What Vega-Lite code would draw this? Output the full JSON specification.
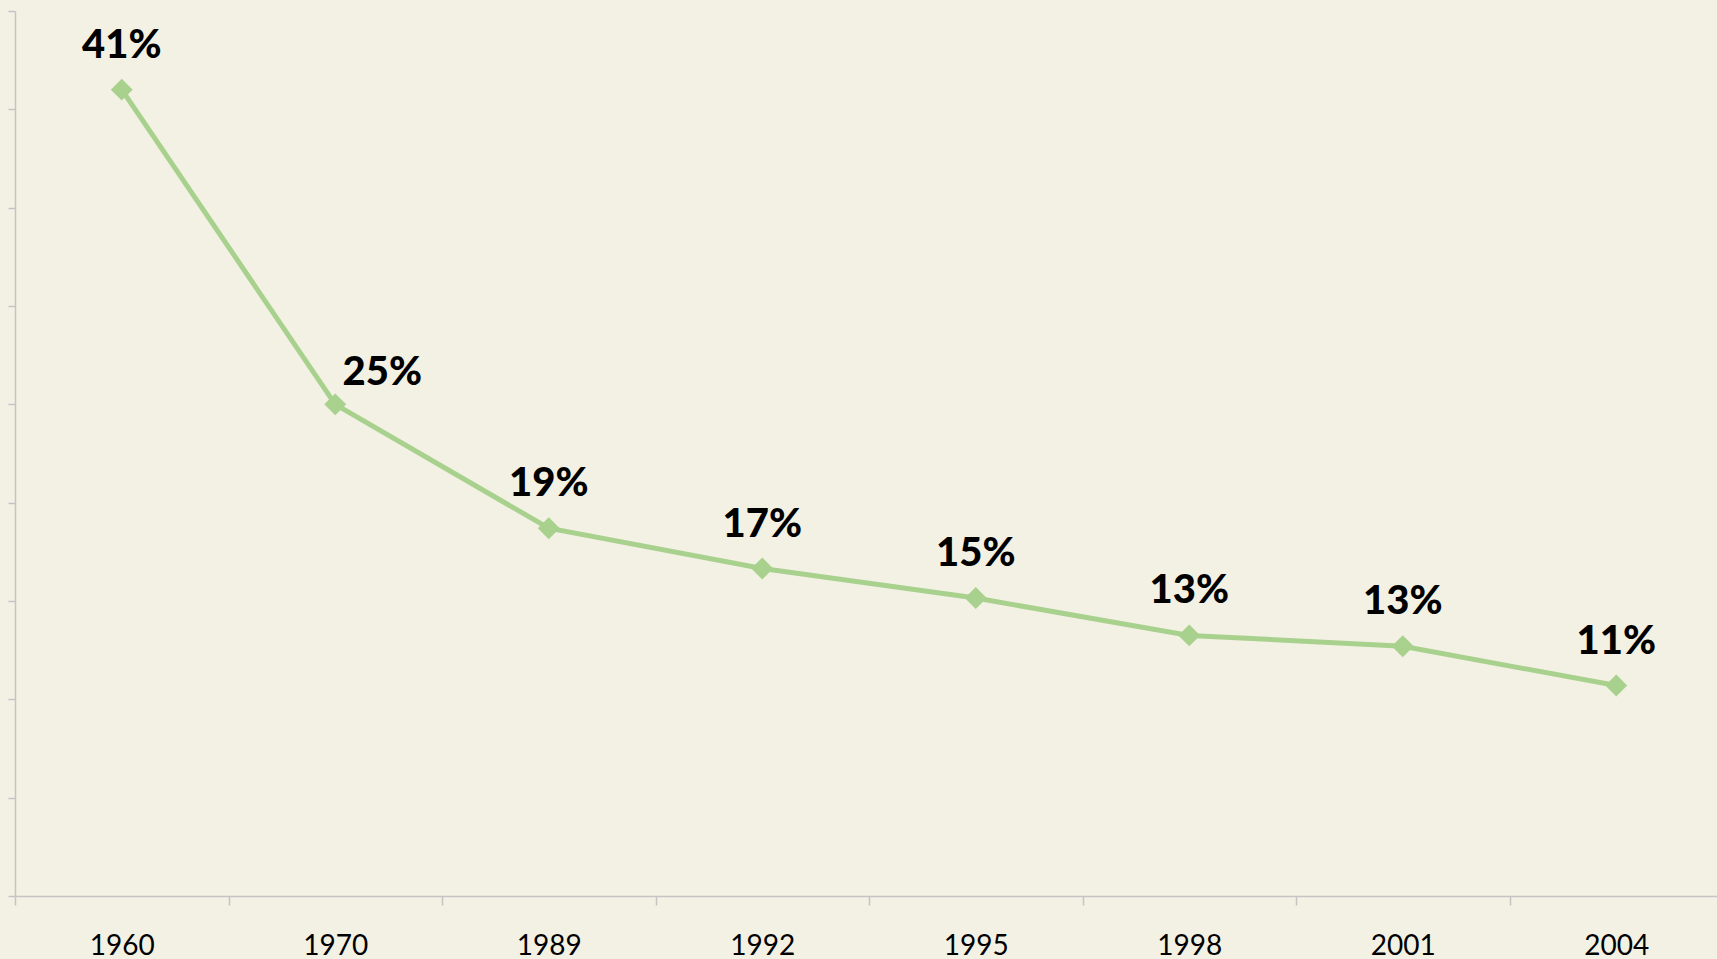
{
  "$schema": "https://vega.github.io/schema/vega-lite/v6.json",
  "width": 1702,
  "height": 885,
  "autosize": {"type": "none"},
  "padding": {"left": 15, "top": 11, "right": 0, "bottom": 63},
  "background": "#f3f1e4",
  "config": {
    "view": {"stroke": null},
    "font": "Lato"
  },
  "data": {
    "values": [
      {"year": "1960", "value": 41.0, "label": "41%"},
      {"year": "1970", "value": 25.0, "label": "25%"},
      {"year": "1989", "value": 18.7, "label": "19%"},
      {"year": "1992", "value": 16.65, "label": "17%"},
      {"year": "1995", "value": 15.15, "label": "15%"},
      {"year": "1998", "value": 13.25, "label": "13%"},
      {"year": "2001", "value": 12.7, "label": "13%"},
      {"year": "2004", "value": 10.7, "label": "11%"}
    ]
  },
  "encoding": {
    "x": {
      "field": "year",
      "type": "ordinal",
      "sort": null,
      "scale": {"paddingInner": 0, "paddingOuter": 0, "range": [0, 1708]},
      "axis": {
        "title": null,
        "labelAngle": 0,
        "domainColor": "#c4c4c4",
        "domainWidth": 1.5,
        "tickColor": "#c4c4c4",
        "tickWidth": 1.5,
        "tickSize": 9,
        "tickBand": "extent",
        "grid": false,
        "labelFont": "Lato",
        "labelFontSize": 28,
        "labelColor": "#000000",
        "labelBaseline": "alphabetic",
        "labelPadding": 49
      }
    },
    "y": {
      "field": "value",
      "type": "quantitative",
      "scale": {"domain": [0, 45], "nice": false},
      "axis": {
        "title": null,
        "labels": false,
        "grid": false,
        "values": [0, 5, 10, 15, 20, 25, 30, 35, 40, 45],
        "domainColor": "#c4c4c4",
        "domainWidth": 1.5,
        "tickColor": "#c4c4c4",
        "tickWidth": 1.5,
        "tickSize": 7
      }
    }
  },
  "layer": [
    {
      "mark": {"type": "line", "color": "#a9d18e", "strokeWidth": 5}
    },
    {
      "mark": {"type": "point", "shape": "diamond", "filled": true, "color": "#a9d18e", "size": 480, "opacity": 1}
    },
    {
      "transform": [{"filter": "datum.year != '1970'"}],
      "mark": {"type": "text", "dy": -44, "fontSize": 40, "fontWeight": 900, "color": "#000000", "baseline": "middle"},
      "encoding": {"text": {"field": "label"}}
    },
    {
      "transform": [{"filter": "datum.year == '1970'"}],
      "mark": {"type": "text", "dx": 47, "dy": -31, "fontSize": 40, "fontWeight": 900, "color": "#000000", "baseline": "middle"},
      "encoding": {"text": {"field": "label"}}
    }
  ]
}
